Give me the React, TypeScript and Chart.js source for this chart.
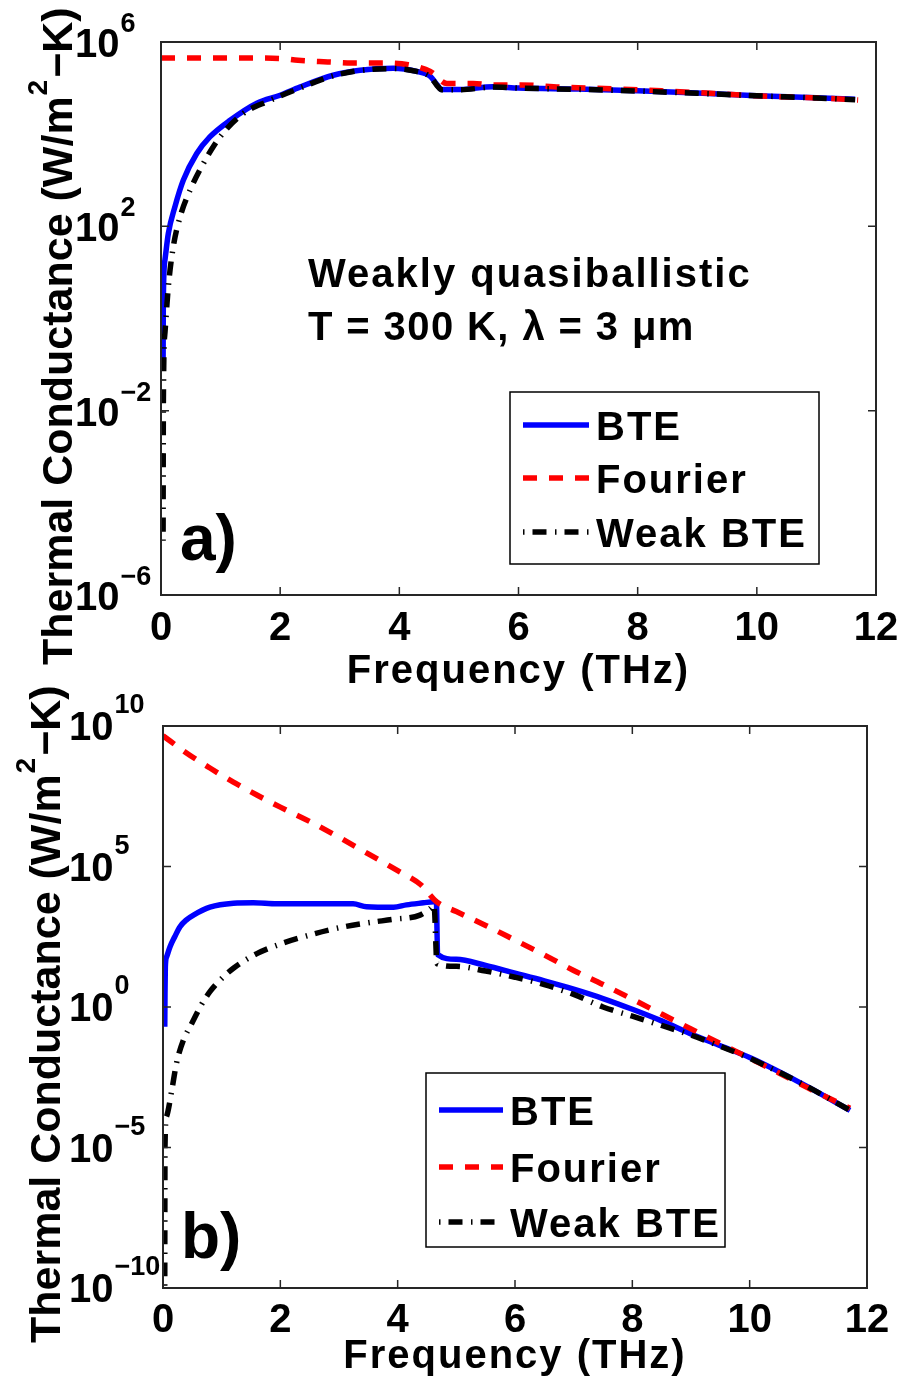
import React, { useEffect, useRef } from "react";
import { Chart, registerables } from "chart.js";

Chart.register(...registerables);

const FONT = '"Liberation Sans", Arial, Helvetica, sans-serif';

const seriesLabels = ["BTE", "Fourier", "Weak BTE"];
const xTickValues = [0, 2, 4, 6, 8, 10, 12];
const yExponentsA = [-6, -2, 2, 6];
const yExponentsB = [-10, -5, 0, 5, 10];
const xTitle = "Frequency (THz)";
const noteLinesA = ["Weakly quasiballistic", "T = 300 K, λ = 3 μm"];
const panelTags = ["a)", "b)"];

// ---- panel a) weakly quasiballistic ----
const freqBteA = [0.035, 0.039, 0.067, 0.123, 0.235, 0.374, 0.6, 0.82, 1.16, 1.61, 2.0, 2.33, 2.89, 3.34, 3.9, 4.29, 4.52, 4.63, 4.71, 5.02, 5.57, 6.0, 7.0, 8.0, 9.0, 10.0, 11.0, 11.65];
const bteA = [0.09, 2.5, 19, 70, 270, 1000, 3800, 8700, 2.0e4, 4.7e4, 7.0e4, 1.05e5, 1.9e5, 2.45e5, 2.7e5, 2.3e5, 1.8e5, 1.2e5, 9.3e4, 9.3e4, 1.07e5, 1.0e5, 9.5e4, 8.7e4, 7.8e4, 6.8e4, 6.2e4, 5.7e4];

const freqFourierA = [0, 0.5, 1.0, 1.5, 2.0, 2.3, 2.8, 3.2, 3.8, 4.15, 4.52, 4.8, 5.24, 5.57, 6.04, 6.7, 7.2, 8.4, 9.46, 9.97, 11.15, 11.7];
const fourierA = [4.5e5, 4.5e5, 4.5e5, 4.5e5, 4.4e5, 4.0e5, 3.7e5, 3.5e5, 3.5e5, 3.2e5, 2.3e5, 1.26e5, 1.26e5, 1.17e5, 1.17e5, 1.05e5, 1.0e5, 8.7e4, 7.4e4, 6.8e4, 6.0e4, 5.5e4];

const freqWeakA = [0.035, 0.04, 0.067, 0.123, 0.206, 0.32, 0.49, 0.71, 0.99, 1.38, 1.8, 2.33, 2.89, 3.34, 3.9, 4.29, 4.52, 4.63, 4.71, 5.02, 5.57, 6.0, 7.0, 8.0, 9.0, 10.0, 11.0, 11.65];
const weakA = [1.5e-5, 1.7e-2, 0.5, 4.9, 36, 160, 620, 2300, 8700, 2.8e4, 5.2e4, 1.0e5, 1.85e5, 2.4e5, 2.65e5, 2.3e5, 1.75e5, 1.15e5, 9.2e4, 9.2e4, 1.05e5, 1.0e5, 9.4e4, 8.6e4, 7.7e4, 6.8e4, 6.1e4, 5.6e4];

// ---- panel b) ----
const freqBteB = [0.03, 0.034, 0.04, 0.063, 0.12, 0.2, 0.29, 0.4, 0.52, 0.8, 1.2, 1.54, 1.94, 3.24, 3.47, 3.93, 4.15, 4.44, 4.61, 4.66, 4.68, 5.0, 5.5, 6.0, 6.5, 7.0, 7.5, 8.0, 8.5, 9.0, 9.5, 10.0, 10.5, 11.0, 11.71];
const bteB = [0.2, 3, 27, 62, 140, 316, 720, 1260, 1860, 3550, 4900, 5100, 4700, 4700, 3700, 3550, 4300, 5100, 5600, 5600, 74, 50, 30, 16, 8.5, 4.3, 2.0, 0.83, 0.32, 0.11, 0.042, 0.016, 5e-3, 1.4e-3, 2.1e-4];

const freqFourierB = [0, 0.4, 0.8, 1.2, 1.6, 2.0, 2.5, 3.0, 3.5, 4.0, 4.4, 4.66, 5.0, 5.5, 6.0, 6.5, 7.0, 7.5, 8.0, 8.5, 9.0, 9.5, 10.0, 10.5, 11.0, 11.71];
const fourierB = [4.5e9, 1.1e9, 3.2e8, 1.0e8, 3.5e7, 1.3e7, 4.0e6, 1.1e6, 2.8e5, 7.1e4, 2.2e4, 5.6e3, 2.5e3, 800, 240, 71, 20, 6.3, 1.9, 0.56, 0.166, 0.05, 0.015, 4.5e-3, 1.3e-3, 2.5e-4];

const freqWeakB = [0.03, 0.034, 0.06, 0.15, 0.23, 0.35, 0.49, 0.66, 0.8, 0.97, 1.2, 1.6, 2.0, 2.5, 3.0, 3.5, 3.93, 4.38, 4.55, 4.62, 4.67, 5.0, 5.5, 6.0, 6.5, 7.0, 7.5, 8.0, 8.5, 9.0, 9.5, 10.0, 10.5, 11.0, 11.71];
const weakB = [1.2e-10, 1.1e-5, 1.26e-4, 1.1e-3, 1e-2, 0.068, 0.26, 1.26, 3.5, 8.9, 24, 79, 174, 363, 660, 1000, 1320, 1860, 3160, 4200, 35, 28, 19, 11.5, 6.3, 2.8, 1.0, 0.47, 0.22, 0.1, 0.04, 0.015, 4.8e-3, 1.4e-3, 2.1e-4];

const COLORS = ["#0000ff", "#ff0000", "#000000"];
const DASHES: number[][] = [[], [14, 12], [1.5, 8, 14, 8.5]];
const LINE_W = 5.5;

function toPoints(xs: number[], ys: number[]) {
  return xs.map((x, i) => ({ x, y: ys[i] }));
}

function supText(e: number) {
  return e < 0 ? "\u2212" + String(-e) : String(e);
}

type PanelCfg = {
  series: { f: number[]; v: number[] }[];
  padding: { left: number; top: number; right: number; bottom: number };
  yMin: number;
  yMax: number;
  yExps: number[];
  tickLabelX: number;
  baseOff: number;
  supOff: number;
  xTickBaseline: number;
  xTitleBaseline: number;
  yTitleX: number;
  yTitleY: number;
  legend: { x0: number; y0: number; x1: number; y1: number; lx0: number; lx1: number; tx: number; rows: number[] };
  notes: { text: string; x: number; y: number; size: number; spacing: number }[];
};

function setSpacing(ctx: any, px: number) {
  if ("letterSpacing" in ctx) ctx.letterSpacing = px + "px";
}

function panelPlugin(cfg: PanelCfg) {
  return {
    id: "panelDecor",
    afterDraw(chart: any) {
      const ctx = chart.ctx as CanvasRenderingContext2D;
      const { left, right, top, bottom } = chart.chartArea;
      const xs = chart.scales.x;
      const ys = chart.scales.y;
      ctx.save();
      // frame
      ctx.strokeStyle = "#262626";
      ctx.lineWidth = 2;
      ctx.setLineDash([]);
      ctx.strokeRect(left, top, right - left, bottom - top);
      ctx.lineWidth = 1.5;
      const tl = 8;
      ctx.beginPath();
      for (const v of xTickValues) {
        const px = xs.getPixelForValue(v);
        if (px <= left + 1 || px >= right - 1) continue;
        ctx.moveTo(px, bottom);
        ctx.lineTo(px, bottom - tl);
        ctx.moveTo(px, top);
        ctx.lineTo(px, top + tl);
      }
      for (const e of cfg.yExps) {
        const py = ys.getPixelForValue(Math.pow(10, e));
        if (py <= top + 1 || py >= bottom - 1) continue;
        ctx.moveTo(left, py);
        ctx.lineTo(left + tl, py);
        ctx.moveTo(right, py);
        ctx.lineTo(right - tl, py);
      }
      ctx.stroke();

      ctx.fillStyle = "#000";
      ctx.textBaseline = "alphabetic";
      // x tick labels
      ctx.font = `bold 40px ${FONT}`;
      ctx.textAlign = "center";
      setSpacing(ctx, 0);
      for (const v of xTickValues) {
        const px = xs.getPixelForValue(v);
        ctx.fillText(String(v), px, cfg.xTickBaseline);
      }
      // y tick labels 10^e
      ctx.textAlign = "left";
      for (const e of cfg.yExps) {
        const py = ys.getPixelForValue(Math.pow(10, e));
        ctx.font = `bold 40px ${FONT}`;
        ctx.fillText("10", cfg.tickLabelX, py + cfg.baseOff);
        const w = ctx.measureText("10").width;
        ctx.font = `bold 27px ${FONT}`;
        ctx.fillText(supText(e), cfg.tickLabelX + w + 1, py + cfg.supOff);
      }
      // x title
      ctx.font = `bold 40px ${FONT}`;
      setSpacing(ctx, 2);
      ctx.textAlign = "center";
      ctx.fillText(xTitle, (left + right) / 2, cfg.xTitleBaseline);
      // y title
      ctx.save();
      ctx.translate(cfg.yTitleX, cfg.yTitleY);
      ctx.rotate(-Math.PI / 2);
      ctx.textAlign = "left";
      setSpacing(ctx, 0);
      ctx.font = `bold 43px ${FONT}`;
      const p1 = "Thermal Conductance (W/m";
      ctx.fillText(p1, 0, 0);
      let w = ctx.measureText(p1).width;
      ctx.font = `bold 28px ${FONT}`;
      ctx.fillText("2", w + 1, -25);
      w += ctx.measureText("2").width + 3;
      ctx.font = `bold 43px ${FONT}`;
      ctx.fillText("\u2212K)", w, 0);
      ctx.restore();
      // notes
      ctx.textAlign = "left";
      for (const n of cfg.notes) {
        ctx.font = `bold ${n.size}px ${FONT}`;
        setSpacing(ctx, n.spacing);
        ctx.fillText(n.text, n.x, n.y);
      }
      // legend
      const L = cfg.legend;
      ctx.fillStyle = "#fff";
      ctx.fillRect(L.x0, L.y0, L.x1 - L.x0, L.y1 - L.y0);
      ctx.strokeStyle = "#000";
      ctx.lineWidth = 1.5;
      ctx.strokeRect(L.x0, L.y0, L.x1 - L.x0, L.y1 - L.y0);
      chart.data.datasets.forEach((ds: any, i: number) => {
        const y = L.rows[i];
        ctx.strokeStyle = ds.borderColor;
        ctx.lineWidth = LINE_W;
        ctx.lineCap = "butt";
        ctx.setLineDash(ds.borderDash || []);
        ctx.beginPath();
        ctx.moveTo(L.lx0, y);
        ctx.lineTo(L.lx1, y);
        ctx.stroke();
        ctx.setLineDash([]);
        ctx.fillStyle = "#000";
        ctx.font = `bold 40px ${FONT}`;
        setSpacing(ctx, 2);
        ctx.fillText(ds.label, L.tx, y + 15);
      });
      setSpacing(ctx, 0);
      ctx.restore();
    },
  };
}

function makePanel(canvas: HTMLCanvasElement, cfg: PanelCfg) {
  const datasets = cfg.series.map((s, i) => ({
    label: seriesLabels[i],
    data: toPoints(s.f, s.v),
    borderColor: COLORS[i],
    backgroundColor: COLORS[i],
    borderWidth: LINE_W,
    borderDash: DASHES[i],
    borderCapStyle: "butt",
    borderJoinStyle: "round",
    cubicInterpolationMode: "monotone",
    pointRadius: 0,
    fill: false,
    order: 3 - i,
  }));
  return new Chart(canvas, {
    type: "line",
    data: { datasets } as any,
    options: {
      responsive: false,
      animation: false,
      devicePixelRatio: 1,
      layout: { padding: cfg.padding },
      plugins: { legend: { display: false }, tooltip: { enabled: false }, title: { display: false } },
      scales: {
        x: { type: "linear", min: 0, max: 12, display: false },
        y: { type: "logarithmic", min: cfg.yMin, max: cfg.yMax, display: false },
      },
    } as any,
    plugins: [panelPlugin(cfg)],
  });
}

const cfgA: PanelCfg = {
  series: [
    { f: freqBteA, v: bteA },
    { f: freqFourierA, v: fourierA },
    { f: freqWeakA, v: weakA },
  ],
  padding: { left: 161, top: 42, right: 30, bottom: 785 },
  yMin: 1e-6,
  yMax: 1e6,
  yExps: yExponentsA,
  tickLabelX: 75,
  baseOff: 15,
  supOff: -10,
  xTickBaseline: 640,
  xTitleBaseline: 683,
  yTitleX: 72,
  yTitleY: 665,
  legend: { x0: 510, y0: 392, x1: 819, y1: 564, lx0: 523, lx1: 589, tx: 596, rows: [425, 478, 532] },
  notes: [
    { text: noteLinesA[0], x: 308, y: 287, size: 40, spacing: 2 },
    { text: noteLinesA[1], x: 308, y: 340, size: 40, spacing: 1.4 },
    { text: panelTags[0], x: 180, y: 560, size: 64, spacing: 0 },
  ],
};

const cfgB: PanelCfg = {
  series: [
    { f: freqBteB, v: bteB },
    { f: freqFourierB, v: fourierB },
    { f: freqWeakB, v: weakB },
  ],
  padding: { left: 163, top: 726, right: 39, bottom: 92 },
  yMin: 1e-10,
  yMax: 1e10,
  yExps: yExponentsB,
  tickLabelX: 69,
  baseOff: 14,
  supOff: -13,
  xTickBaseline: 1332,
  xTitleBaseline: 1368,
  yTitleX: 60,
  yTitleY: 1343,
  legend: { x0: 426, y0: 1073, x1: 725, y1: 1247, lx0: 439, lx1: 503, tx: 510, rows: [1110, 1167, 1222] },
  notes: [{ text: panelTags[1], x: 181, y: 1258, size: 64, spacing: 0 }],
};

export default function App() {
  const refA = useRef<HTMLCanvasElement>(null);
  const refB = useRef<HTMLCanvasElement>(null);
  useEffect(() => {
    const a = makePanel(refA.current!, cfgA);
    const b = makePanel(refB.current!, cfgB);
    return () => {
      a.destroy();
      b.destroy();
    };
  }, []);
  const cs: React.CSSProperties = { position: "absolute", left: 0, top: 0, width: 906, height: 1380 };
  return (
    <div style={{ position: "absolute", left: 0, top: 0, width: 906, height: 1380, background: "#fff" }}>
      <canvas ref={refB} width={906} height={1380} style={cs} />
      <canvas ref={refA} width={906} height={1380} style={cs} />
    </div>
  );
}
